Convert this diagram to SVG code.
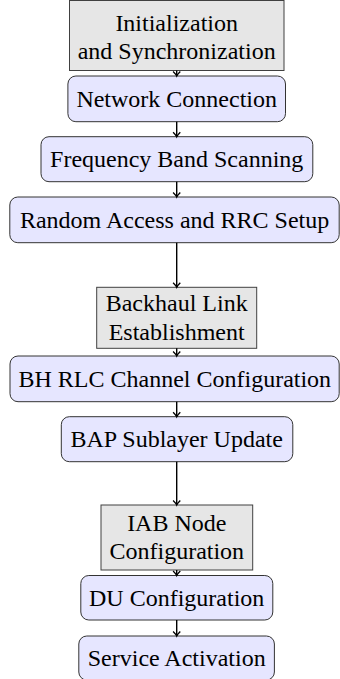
<svg xmlns="http://www.w3.org/2000/svg" width="340" height="679" viewBox="0 0 340 679">
<style>
.g{fill:#e6e6e6;stroke:#404040;stroke-width:1}
.b{fill:#e6e6ff;stroke:#333333;stroke-width:1}
text{font-size:24px;fill:#000;text-anchor:middle}
.c line{stroke:#000;stroke-width:1.4;marker-end:url(#ah)}
</style>
<defs>
<marker id="ah" viewBox="-6 -5 8 10" refX="0" refY="0" markerUnits="userSpaceOnUse" markerWidth="8" markerHeight="10" orient="auto">
<path d="M-4.5,-3.6 Q-1.5,-0.6 0,0 Q-1.5,0.6 -4.5,3.6" fill="none" stroke="#000" stroke-width="1.3"/>
</marker>
</defs>
<g id="nodes" font-family="Liberation Serif, Times New Roman, serif">
<g id="n1"><rect class="g" x="69.5" y="0.5" width="214.5" height="70"/><text x="176.7" y="30.5">Initialization</text><text x="176.7" y="59">and Synchronization</text></g>
<g id="n2"><rect class="b" x="67.9" y="76" width="217.6" height="45.7" rx="8"/><text x="176.7" y="106.5">Network Connection</text></g>
<g id="n3"><rect class="b" x="41" y="136.7" width="271.8" height="45" rx="8"/><text x="176.7" y="167">Frequency Band Scanning</text></g>
<g id="n4"><rect class="b" x="9.8" y="197" width="329.4" height="45.7" rx="8"/><text x="174.6" y="227.7">Random Access and RRC Setup</text></g>
<g id="n5"><rect class="g" x="96.7" y="287.3" width="160" height="61"/><text x="176.7" y="310.5">Backhaul Link</text><text x="176.7" y="340">Establishment</text></g>
<g id="n6"><rect class="b" x="10" y="356" width="329.2" height="45.7" rx="8"/><text x="174.8" y="386.7">BH RLC Channel Configuration</text></g>
<g id="n7"><rect class="b" x="61.3" y="416.7" width="231.5" height="45" rx="8"/><text x="176.7" y="447">BAP Sublayer Update</text></g>
<g id="n8"><rect class="g" x="101" y="505" width="151.7" height="65"/><text x="176.8" y="530.5">IAB Node</text><text x="176.8" y="558.5">Configuration</text></g>
<g id="n9"><rect class="b" x="80.8" y="575.5" width="192" height="44.5" rx="8"/><text x="176.7" y="605.5">DU Configuration</text></g>
<g id="n10"><rect class="b" x="78.8" y="636" width="195.6" height="44" rx="8"/><text x="176.7" y="665.5">Service Activation</text></g>
</g>
<g class="c" id="connectors">
<line x1="176.7" y1="70.5" x2="176.7" y2="76"/>
<line x1="176.7" y1="121.7" x2="176.7" y2="136.7"/>
<line x1="176.7" y1="181.7" x2="176.7" y2="197"/>
<line x1="176.7" y1="242.7" x2="176.7" y2="287.3"/>
<line x1="176.7" y1="348.3" x2="176.7" y2="356"/>
<line x1="176.7" y1="401.7" x2="176.7" y2="416.7"/>
<line x1="176.7" y1="461.7" x2="176.7" y2="505"/>
<line x1="176.7" y1="570" x2="176.7" y2="575.5"/>
<line x1="176.7" y1="620" x2="176.7" y2="636"/>
</g>
</svg>
